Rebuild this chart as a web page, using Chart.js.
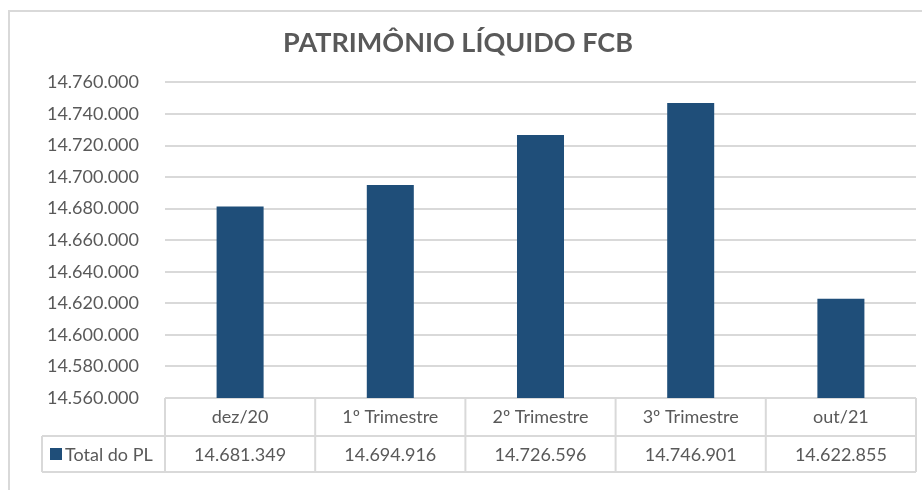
<!DOCTYPE html>
<html lang="pt-BR">
<head>
    <meta charset="UTF-8">
    <title>Patrimônio Líquido FCB</title>
    <style>
        html, body { margin: 0; padding: 0; background: #fff; overflow: hidden; }
        #frame { position: absolute; left: 8px; top: 10px; width: 960px; height: 520px; border: 2px solid #d9d9d9; }
        #wrap { position: absolute; left: 0; top: 0; width: 922px; height: 490px; }
    </style>
</head>
<body>
    <div id="frame"></div>
    <div id="wrap"><canvas id="pl-chart"></canvas></div>
    <script src="https://cdn.jsdelivr.net/npm/chart.js"></script>
    <script>
        // chart data
        const categories = ['dez/20', '1º Trimestre', '2º Trimestre', '3º Trimestre', 'out/21'];
        const totalPL = [14681349, 14694916, 14726596, 14746901, 14622855];
        const seriesName = 'Total do PL';
        const yMin = 14560000;
        const yMax = 14760000;
        const yStep = 20000;

        const textColor = '#595959';
        const lineColor = '#d9d9d9';
        const barColor = '#1f4e79';
        const fontFamily = 'Lato, "Open Sans", sans-serif';

        // 14681349 -> 14.681.349
        function fmt(v) {
            return String(v).replace(/\B(?=(\d{3})+(?!\d))/g, '.');
        }

        // data table under the plot (Excel style)
        const dataTable = {
            id: 'dataTable',
            afterDraw(chart) {
                const { ctx, chartArea } = chart;
                const x = chart.scales.x;
                const w = (chartArea.right - chartArea.left) / categories.length;
                const top = chartArea.bottom;
                const row1 = top + 38;
                const row2 = row1 + 36;
                const legendLeft = 42;

                ctx.save();
                ctx.strokeStyle = lineColor;
                ctx.lineWidth = 2;
                ctx.beginPath();
                ctx.moveTo(legendLeft, row1); ctx.lineTo(chartArea.right, row1);
                ctx.moveTo(legendLeft, row2); ctx.lineTo(chartArea.right, row2);
                ctx.moveTo(legendLeft, row1); ctx.lineTo(legendLeft, row2);
                for (let i = 0; i <= categories.length; i++) {
                    const xp = chartArea.left + i * w;
                    ctx.moveTo(xp, top); ctx.lineTo(xp, row2);
                }
                ctx.stroke();

                const mid = (row1 + row2) / 2;
                ctx.fillStyle = barColor;
                ctx.fillRect(50, mid - 6, 12, 12);

                ctx.font = '18px ' + fontFamily;
                ctx.fillStyle = textColor;
                ctx.textBaseline = 'middle';
                ctx.textAlign = 'left';
                ctx.fillText(seriesName, 65, mid + 1);
                ctx.textAlign = 'center';
                totalPL.forEach((v, i) => {
                    ctx.fillText(fmt(v), x.getPixelForValue(i), mid + 1);
                });
                ctx.restore();
            }
        };

        const ctx = document.getElementById('pl-chart').getContext('2d');
        new Chart(ctx, {
            type: 'bar',
            data: {
                labels: categories,
                datasets: [{
                    label: seriesName,
                    data: totalPL,
                    backgroundColor: barColor,
                    barPercentage: 1,
                    categoryPercentage: 0.313
                }]
            },
            options: {
                responsive: true,
                maintainAspectRatio: false,
                animation: false,
                layout: { padding: { top: 0, right: 6, bottom: 0, left: 0 } },
                plugins: {
                    legend: { display: false },
                    tooltip: { enabled: false },
                    title: {
                        display: true,
                        text: 'PATRIMÔNIO LÍQUIDO FCB',
                        color: textColor,
                        font: { family: fontFamily, size: 27, weight: 'bold' },
                        padding: { top: 27, bottom: 23 }
                    }
                },
                scales: {
                    x: {
                        grid: { display: false, drawTicks: false },
                        border: { display: false },
                        ticks: {
                            color: textColor,
                            font: { family: fontFamily, size: 18 },
                            padding: 8,
                            maxRotation: 0
                        },
                        afterFit(scale) { scale.height = 92; }
                    },
                    y: {
                        min: yMin,
                        max: yMax,
                        grid: { color: lineColor, lineWidth: 2, drawTicks: false },
                        border: { display: false },
                        ticks: {
                            stepSize: yStep,
                            color: textColor,
                            font: { family: fontFamily, size: 18 },
                            padding: 26,
                            callback: v => fmt(v)
                        },
                        afterFit(scale) { scale.width = 165; }
                    }
                }
            },
            plugins: [dataTable]
        });
    </script>
</body>
</html>
